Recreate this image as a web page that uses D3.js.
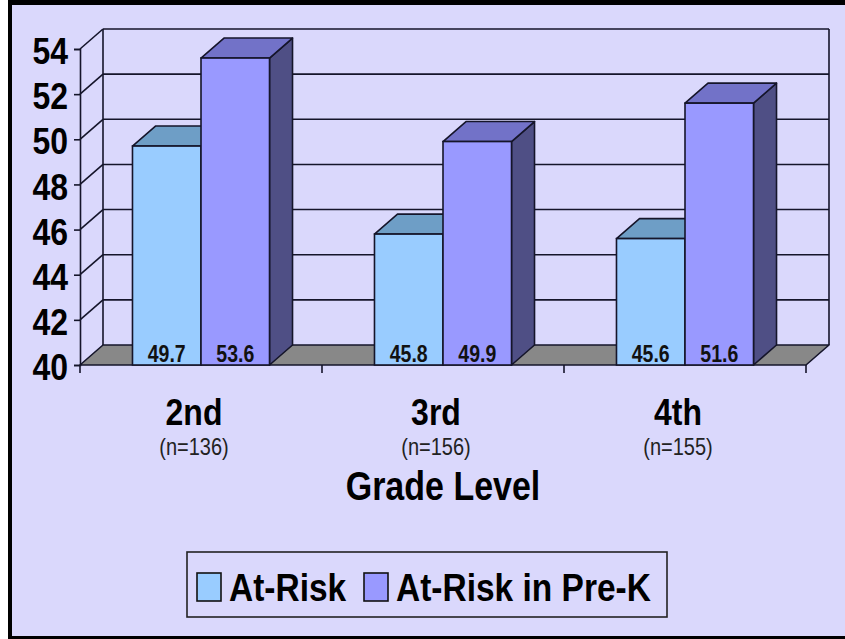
<!DOCTYPE html>
<html><head><meta charset="utf-8">
<script src="https://cdn.jsdelivr.net/npm/d3@7"></script>
<style>html,body{margin:0;padding:0;background:#fff;}svg{display:block;}</style>
</head><body>
<script>
const categories = ["2nd", "3rd", "4th"];
const nLabels = ["(n=136)", "(n=156)", "(n=155)"];
const seriesNames = ["At-Risk", "At-Risk in Pre-K"];
const atRisk = [49.7, 45.8, 45.6];
const atRiskPreK = [53.6, 49.9, 51.6];
const yTicks = [40, 42, 44, 46, 48, 50, 52, 54];
const axisTitle = "Grade Level";

const W = 845, H = 639;
const DX = 23, DY = -20;
const SY = 1.18; // vertical stretch of text
const FONT = "'Liberation Sans', Arial, sans-serif";
const colors = {
  bg: "#dad8fc",
  front: ["#99ccff", "#9999ff"],
  top: ["#6e9ec6", "#7272c8"],
  side: ["#4f7a9e", "#4f4f85"],
  floor: "#888888",
  line: "#15152a"
};

const svg = d3.select("body").append("svg").attr("width", W).attr("height", H);
svg.append("rect").attr("x", 0).attr("y", 0).attr("width", W).attr("height", H).attr("fill", "#fff");
svg.append("rect").attr("x", 8).attr("y", 0).attr("width", W - 8).attr("height", H).attr("fill", colors.bg);
// frame
svg.append("rect").attr("x", 8).attr("y", 0).attr("width", 4).attr("height", H).attr("fill", "#000");
svg.append("rect").attr("x", 8).attr("y", 0).attr("width", W - 8).attr("height", 5).attr("fill", "#000");
svg.append("rect").attr("x", 8).attr("y", 636).attr("width", W - 8).attr("height", 3).attr("fill", "#000");

const x = d3.scaleBand().domain(categories).range([80, 806]);
const x1 = d3.scaleBand().domain(seriesNames).range([0, x.bandwidth()]).paddingOuter(0.766).paddingInner(0);
const y = d3.scaleLinear().domain([40, 54]).range([365, 49]);
const [x0f, x1f] = x.range();
const yMin = y.domain()[0], yMax = y.domain()[1];

const g = svg.append("g");
const ln = (a, b, c, d, w) => g.append("line").attr("x1", a).attr("y1", b).attr("x2", c).attr("y2", d)
  .attr("stroke", colors.line).attr("stroke-width", w || 1.6);

// back wall grid lines
yTicks.filter(t => t > yMin).forEach(t => ln(x0f + DX, y(t) + DY, x1f + DX, y(t) + DY));
// left wall diagonals
yTicks.filter(t => t > yMin).forEach(t => ln(x0f, y(t), x0f + DX, y(t) + DY));
// back verticals
ln(x0f + DX, y(yMax) + DY, x0f + DX, y(yMin) + DY);
ln(x1f + DX, y(yMax) + DY, x1f + DX, y(yMin) + DY);

// floor
g.append("path").attr("d", d3.line()([[x0f, y(yMin)], [x1f, y(yMin)], [x1f + DX, y(yMin) + DY], [x0f + DX, y(yMin) + DY]]) + "Z")
  .attr("fill", colors.floor).attr("stroke", colors.line).attr("stroke-width", 1.6).attr("stroke-linejoin", "round");

// left axis
const yAxis = d3.axisLeft(y).tickValues(yTicks).tickSize(6).tickFormat(d3.format("d"));
const ya = svg.append("g").attr("transform", `translate(${x0f},0)`).call(yAxis);
ya.select(".domain").attr("stroke", colors.line).attr("stroke-width", 1.6);
ya.selectAll(".tick line").attr("stroke", colors.line).attr("stroke-width", 1.6);
ya.selectAll(".tick text").attr("x", -12).attr("dy", null).attr("y", 1)
  .attr("dominant-baseline", "central")
  .attr("transform", `scale(1,${SY})`)
  .style("font-family", FONT).style("font-weight", "bold")
  .style("font-size", "32px").attr("fill", "#000");

// category ticks
[...categories.map(c => x(c)), x1f].forEach(v => ln(v, y(yMin), v, y(yMin) + 8));

// bars
const seriesVals = [atRisk, atRiskPreK];
categories.forEach((c, i) => {
  seriesNames.forEach((s, j) => {
    const v = seriesVals[j][i];
    const bx = x(c) + x1(s), bw = x1.bandwidth();
    const yt = y(v), yb = y(yMin);
    g.append("path").attr("d", d3.line()([[bx + bw, yt], [bx + bw + DX, yt + DY], [bx + bw + DX, yb + DY], [bx + bw, yb]]) + "Z")
      .attr("fill", colors.side[j]).attr("stroke", colors.line).attr("stroke-width", 1.6).attr("stroke-linejoin", "round");
    g.append("path").attr("d", d3.line()([[bx, yt], [bx + DX, yt + DY], [bx + bw + DX, yt + DY], [bx + bw, yt]]) + "Z")
      .attr("fill", colors.top[j]).attr("stroke", colors.line).attr("stroke-width", 1.6).attr("stroke-linejoin", "round");
    g.append("rect").attr("x", bx).attr("y", yt).attr("width", bw).attr("height", yb - yt)
      .attr("fill", colors.front[j]).attr("stroke", colors.line).attr("stroke-width", 1.6);
    g.append("text").attr("transform", `translate(${bx + bw / 2},${yb - 3}) scale(1,${SY})`).attr("text-anchor", "middle")
      .style("font-family", FONT).style("font-weight", "bold").style("font-size", "19.5px")
      .attr("fill", "#111").text(d3.format(".1f")(v));
  });
});

// category labels
const txt = (tx, ty, s, size, weight, fill) => svg.append("text")
  .attr("transform", `translate(${tx},${ty}) scale(1,${SY})`).attr("text-anchor", "middle")
  .style("font-family", FONT).style("font-weight", weight).style("font-size", size + "px")
  .attr("fill", fill || "#000").text(s);
categories.forEach((c, i) => {
  const cx = x(c) + x.bandwidth() / 2 - 7;
  txt(cx, 425, c, 32, "bold");
  txt(cx, 455, nLabels[i], 20, "normal", "#222");
});
txt((x0f + x1f) / 2, 500, axisTitle, 34, "bold");

// legend
const lg = svg.append("g");
lg.append("rect").attr("x", 187).attr("y", 552).attr("width", 480).attr("height", 65)
  .attr("fill", "none").attr("stroke", "#222").attr("stroke-width", 1.6);
const legItems = [{ name: seriesNames[0], sx: 197, tx: 229 }, { name: seriesNames[1], sx: 364, tx: 396 }];
legItems.forEach((it, j) => {
  lg.append("rect").attr("x", it.sx).attr("y", 573).attr("width", 24).attr("height", 28)
    .attr("fill", colors.front[j]).attr("stroke", "#111").attr("stroke-width", 1.6);
  lg.append("text").attr("transform", `translate(${it.tx},601) scale(1,${SY})`)
    .style("font-family", FONT).style("font-weight", "bold").style("font-size", "33.5px")
    .attr("fill", "#000").text(it.name);
});
</script>
</body></html>
